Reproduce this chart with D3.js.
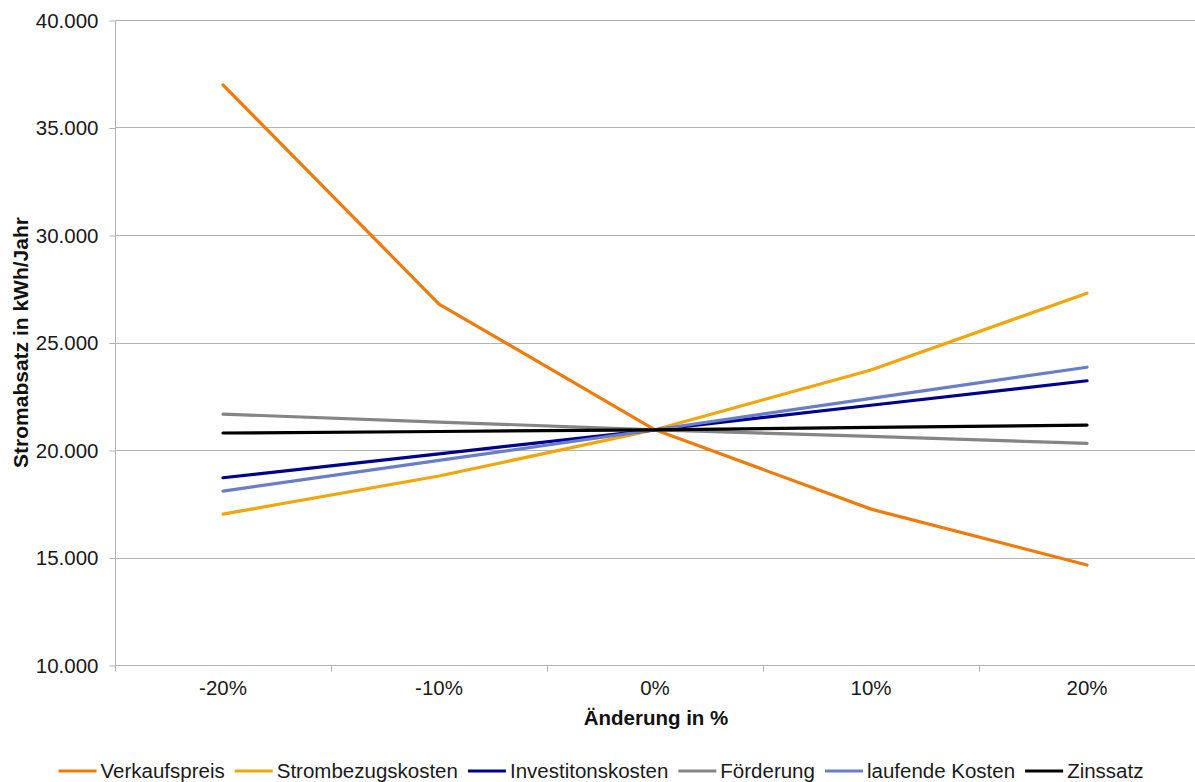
<!DOCTYPE html>
<html>
<head>
<meta charset="utf-8">
<script src="https://cdn.jsdelivr.net/npm/d3@7"></script>
<style>
  html, body { margin: 0; padding: 0; background: #fff; }
  svg { display: block; font-family: "Liberation Sans", Arial, sans-serif; }
</style>
</head>
<body>
<svg id="chart" width="1195" height="782"></svg>
<script>
// Sensitivity of annual electricity sales to parameter changes
const categories = ["-20%", "-10%", "0%", "10%", "20%"];
const yTicks = [10000, 15000, 20000, 25000, 30000, 35000, 40000];

const seriesNames = ["Verkaufspreis", "Strombezugskosten", "Investitonskosten", "Förderung", "laufende Kosten", "Zinssatz"];
const verkaufspreis     = [36980, 26790, 20940, 17250, 14650];
const strombezugskosten = [17020, 18790, 20940, 23720, 27290];
const investitionskosten = [18710, 19820, 20940, 22080, 23220];
const foerderung        = [21670, 21300, 20940, 20630, 20310];
const laufendeKosten    = [18090, 19520, 20940, 22400, 23850];
const zinssatz          = [20790, 20860, 20940, 21050, 21160];
const seriesColors = ["#ef7b0b", "#f2a60c", "#00008f", "#858585", "#6a7ec8", "#000000"];

const seriesValues = [verkaufspreis, strombezugskosten, investitionskosten, foerderung, laufendeKosten, zinssatz];
const series = seriesNames.map((name, i) => ({ name, color: seriesColors[i], values: seriesValues[i] }));

const svg = d3.select("#chart");
const plotLeft = 115, plotRight = 1195, plotTop = 20, plotBottom = 665;
const labelSize = 20.5;

const x = d3.scaleBand().domain(categories).range([plotLeft, plotRight]).padding(0);
const y = d3.scaleLinear().domain([10000, 40000]).range([plotBottom, plotTop]);

const de = d3.formatLocale({ decimal: ",", thousands: ".", grouping: [3], currency: ["", " €"] });
const fmt = de.format(",.0f");

const gridColor = "#b3b3b3";

// horizontal gridlines
svg.append("g")
  .selectAll("line")
  .data(yTicks)
  .join("line")
  .attr("x1", plotLeft).attr("x2", plotRight)
  .attr("y1", d => Math.round(y(d)) + 0.5).attr("y2", d => Math.round(y(d)) + 0.5)
  .attr("stroke", gridColor).attr("stroke-width", 1);

// y axis
const yAxis = svg.append("g")
  .attr("transform", `translate(${plotLeft + 0.5},0.5)`)
  .call(d3.axisLeft(y).tickValues(yTicks).tickFormat(fmt).tickSize(6).tickPadding(11));
yAxis.select(".domain").attr("stroke", gridColor).attr("d", `M0,${plotTop}V${plotBottom}`);
yAxis.selectAll(".tick line").attr("stroke", gridColor);
yAxis.selectAll(".tick text")
  .attr("font-size", labelSize).attr("fill", "#1a1a1a")
  .attr("font-family", "Liberation Sans, Arial, sans-serif");

// x axis: labels centred in each band, tick marks on band boundaries
const xAxis = svg.append("g")
  .attr("transform", `translate(0,${plotBottom + 0.5})`)
  .call(d3.axisBottom(x).tickSize(0).tickPadding(15));
xAxis.select(".domain").attr("stroke", gridColor).attr("d", `M${plotLeft},0H${plotRight}`);
xAxis.selectAll(".tick text")
  .attr("font-size", labelSize).attr("fill", "#1a1a1a")
  .attr("font-family", "Liberation Sans, Arial, sans-serif");

const boundaries = d3.range(categories.length + 1).map(i => plotLeft + i * x.step());
xAxis.selectAll("line.boundary")
  .data(boundaries)
  .join("line")
  .attr("class", "boundary")
  .attr("x1", d => Math.round(d) + 0.5).attr("x2", d => Math.round(d) + 0.5)
  .attr("y1", 0).attr("y2", 6)
  .attr("stroke", gridColor);

// axis titles
svg.append("text")
  .attr("x", (plotLeft + plotRight) / 2 + 1).attr("y", 725)
  .attr("text-anchor", "middle")
  .attr("font-size", 20.5).attr("font-weight", "bold").attr("fill", "#111")
  .text("Änderung in %");

svg.append("text")
  .attr("transform", `translate(28,${(plotTop + plotBottom) / 2}) rotate(-90)`)
  .attr("text-anchor", "middle")
  .attr("font-size", 21).attr("font-weight", "bold").attr("fill", "#111")
  .text("Stromabsatz in kWh/Jahr");

// series lines
const line = d3.line()
  .x((d, i) => x(categories[i]) + x.bandwidth() / 2)
  .y(d => y(d));

svg.append("g")
  .selectAll("path")
  .data(series)
  .join("path")
  .attr("d", d => line(d.values))
  .attr("fill", "none")
  .attr("stroke", d => d.color)
  .attr("stroke-width", 3.2)
  .attr("stroke-linejoin", "round")
  .attr("stroke-linecap", "round");

// legend
const legend = svg.append("g");
const items = legend.selectAll("g")
  .data(series)
  .join("g");
items.append("line")
  .attr("x1", 0).attr("x2", 38)
  .attr("y1", 771).attr("y2", 771)
  .attr("stroke", d => d.color).attr("stroke-width", 3.2);
items.append("text")
  .attr("x", 42).attr("y", 778)
  .attr("font-size", labelSize).attr("fill", "#1a1a1a")
  .text(d => d.name);

let cursor = 0;
const offsets = [];
items.each(function () {
  offsets.push(cursor);
  const w = d3.select(this).select("text").node().getComputedTextLength();
  cursor += 42 + w + 10;
});
const totalWidth = cursor - 10;
const startX = 601 - totalWidth / 2;
items.attr("transform", (d, i) => `translate(${startX + offsets[i]},0)`);
</script>
</body>
</html>
